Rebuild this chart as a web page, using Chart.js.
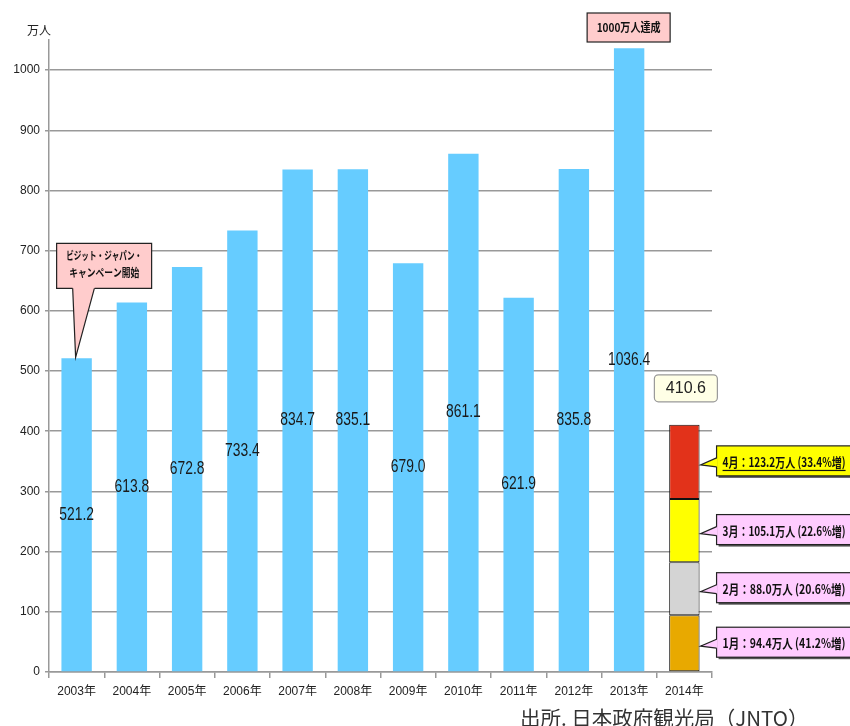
<!DOCTYPE html>
<html><head><meta charset="utf-8">
<script src="https://cdn.jsdelivr.net/npm/chart.js@4"></script>
<style>html,body{margin:0;padding:0;background:#fff;}canvas{display:block;}</style>
</head><body>
<canvas id="c" width="850" height="726"></canvas>
<script>
const years = ['2003年','2004年','2005年','2006年','2007年','2008年','2009年','2010年','2011年','2012年','2013年','2014年'];
const visitors = [521.2, 613.8, 672.8, 733.4, 834.7, 835.1, 679.0, 861.1, 621.9, 835.8, 1036.4, null];
const monthLabels = ['1月','2月','3月','4月'];
const months2014 = [94.4, 88.0, 105.1, 123.2];
const monthGrowth = ['41.2%','20.6%','22.6%','33.4%'];
const monthColors = ['#E8A900','#D4D4D4','#FFFF00','#E2321A'];
const total2014Label = '410.6';
const yAxisTitle = '万人';
const campaignNote = ['ビジット・ジャパン・','キャンペーン開始'];
const milestoneNote = '1000万人達成';
const sourceNote = '出所. 日本政府観光局（JNTO）';

const datasets = [{
  data: visitors, backgroundColor: '#66CCFF', borderWidth: 0
}];
monthLabels.forEach((m, k) => {
  const arr = years.map((_, i) => i === years.length - 1 ? months2014[k] : null);
  datasets.push({ data: arr, backgroundColor: monthColors[k], borderColor: '#111', borderWidth: 1, borderSkipped: false });
});

function box(ctx, x, y, w, h, fill, stroke, shadow) {
  if (shadow) { ctx.fillStyle = '#555'; ctx.fillRect(x + 2, y + 2, w, h); }
  ctx.fillStyle = fill; ctx.fillRect(x, y, w, h);
  ctx.strokeStyle = stroke; ctx.lineWidth = 1.2; ctx.strokeRect(x, y, w, h);
}

const notes = {
  id: 'notes',
  afterDatasetsDraw(chart) {
    const ctx = chart.ctx;
    const area = chart.chartArea;
    ctx.save();
    // value labels in the bars
    const m0 = chart.getDatasetMeta(0);
    ctx.fillStyle = '#1a1a1a';
    ctx.font = '18px "Liberation Sans Narrow", "Liberation Sans", sans-serif';
    ctx.textAlign = 'center'; ctx.textBaseline = 'middle';
    m0.data.forEach((bar, i) => {
      if (visitors[i] == null) return;
      ctx.save();
      ctx.translate(bar.x, (bar.y + bar.base) / 2);
      ctx.scale(0.77, 1);
      ctx.fillText(visitors[i].toFixed(1), 0, 0);
      ctx.restore();
    });
    // y axis title
    ctx.font = '12px "Noto Sans CJK JP", sans-serif';
    ctx.fillStyle = '#222';
    ctx.fillText(yAxisTitle, 39, 30);

    // campaign callout on first bar
    const b0 = m0.data[0];
    const cx0 = b0.x - 20, cy0 = b0.y - 115, cw0 = 95, ch0 = 45;
    ctx.beginPath();
    ctx.moveTo(b0.x - 4, cy0 + ch0 - 1);
    ctx.lineTo(b0.x - 1, b0.y - 1);
    ctx.lineTo(b0.x + 18, cy0 + ch0 - 1);
    ctx.closePath();
    ctx.fillStyle = '#FFCCCC'; ctx.fill();
    ctx.strokeStyle = '#222'; ctx.lineWidth = 1.2; ctx.stroke();
    ctx.fillStyle = '#FFCCCC'; ctx.fillRect(cx0, cy0, cw0, ch0);
    ctx.beginPath();
    ctx.moveTo(b0.x - 4, cy0 + ch0); ctx.lineTo(cx0, cy0 + ch0); ctx.lineTo(cx0, cy0);
    ctx.lineTo(cx0 + cw0, cy0); ctx.lineTo(cx0 + cw0, cy0 + ch0); ctx.lineTo(b0.x + 18, cy0 + ch0);
    ctx.stroke();
    ctx.fillStyle = '#111';
    ctx.font = 'bold 11px "Noto Sans CJK JP", sans-serif';
    ctx.fillText(campaignNote[0], cx0 + cw0 / 2, cy0 + 13, 76);
    ctx.fillText(campaignNote[1], cx0 + cw0 / 2, cy0 + 30, 70);

    // milestone callout over 2013
    const b13 = m0.data[10];
    box(ctx, b13.x - 42, area.top - 27, 83, 29, '#FFCCCC', '#222', false);
    ctx.fillStyle = '#111';
    ctx.font = 'bold 12px "Noto Sans CJK JP", sans-serif';
    ctx.fillText(milestoneNote, b13.x - 0.5, area.top - 12.5, 64);

    // 2014 total label
    const topBar = chart.getDatasetMeta(4).data[11];
    ctx.beginPath();
    ctx.roundRect(topBar.x - 30, topBar.y - 50, 63, 27, 4);
    ctx.fillStyle = '#FFFFE6'; ctx.fill();
    ctx.strokeStyle = '#999'; ctx.lineWidth = 1.2; ctx.stroke();
    ctx.fillStyle = '#222';
    ctx.font = '16px "Liberation Sans Narrow", "Liberation Sans", sans-serif';
    ctx.fillText(total2014Label, topBar.x + 1.5, topBar.y - 36.5);

    // monthly callouts
    monthLabels.forEach((m, k) => {
      const bar = chart.getDatasetMeta(1 + k).data[11];
      const cy = (bar.y + bar.base) / 2;
      const bx = bar.x + bar.width / 2 + 17, by = cy - 16, bw = 150, bh = 30;
      const fill = k === 3 ? '#FFFF00' : '#FFCCFF';
      box(ctx, bx, by, bw, bh, fill, '#222', true);
      ctx.beginPath();
      ctx.moveTo(bx + 1, cy - 4);
      ctx.lineTo(bar.x + bar.width / 2 + 1, cy + 3);
      ctx.lineTo(bx + 1, cy + 5);
      ctx.closePath();
      ctx.fillStyle = fill; ctx.fill();
      ctx.strokeStyle = '#222'; ctx.lineWidth = 1.2;
      ctx.beginPath();
      ctx.moveTo(bx, cy - 4); ctx.lineTo(bar.x + bar.width / 2 + 1, cy + 3); ctx.lineTo(bx, cy + 5);
      ctx.stroke();
      ctx.fillStyle = '#111';
      ctx.font = 'bold 13px "Noto Sans CJK JP", sans-serif';
      ctx.textAlign = 'left';
      const txt = m + '：' + months2014[k].toFixed(1) + '万人 (' + monthGrowth[k] + '増)';
      ctx.fillText(txt, bx + 6, cy, 123);
      if (k === 3) {
        ctx.fillRect(bx + 6, cy + 8, 123, 1.2);
      }
      ctx.textAlign = 'center';
    });

    // source
    ctx.fillStyle = '#333';
    ctx.textAlign = 'left';
    ctx.font = '20.5px "Noto Sans CJK JP", sans-serif';
    ctx.fillText(sourceNote, 520, 718);
    ctx.restore();
  }
};

new Chart(document.getElementById('c'), {
  type: 'bar',
  data: { labels: years, datasets },
  options: {
    responsive: false, animation: false,
    layout: { padding: { top: 40, right: 138, left: 0, bottom: 0 } },
    plugins: { legend: { display: false }, tooltip: { enabled: false } },
    datasets: { bar: { categoryPercentage: 1, barPercentage: 0.55 } },
    scales: {
      x: {
        stacked: true,
        grid: { display: true, drawOnChartArea: false, drawTicks: true, tickLength: 6, color: '#999', lineWidth: 1.5, offset: true },
        border: { color: '#999', width: 1.5 },
        ticks: { color: '#222', font: { size: 12, family: '"Liberation Sans", "Noto Sans CJK JP", sans-serif' }, padding: 6, maxRotation: 0, autoSkip: false },
        afterFit(s) { s.height = 54; }
      },
      y: {
        stacked: true, min: 0, max: 1050,
        grid: { color: '#999', lineWidth: 1.5, tickLength: 4 },
        border: { color: '#999', width: 1.5 },
        ticks: { stepSize: 100, color: '#222', font: { size: 12, family: '"Liberation Sans", sans-serif' }, padding: 5, callback: v => String(v) },
        afterBuildTicks(s) { s.ticks = s.ticks.filter(t => t.value % 100 === 0); },
        afterFit(s) { s.width = 49; }
      }
    }
  },
  plugins: [notes]
});
</script>
</body></html>
